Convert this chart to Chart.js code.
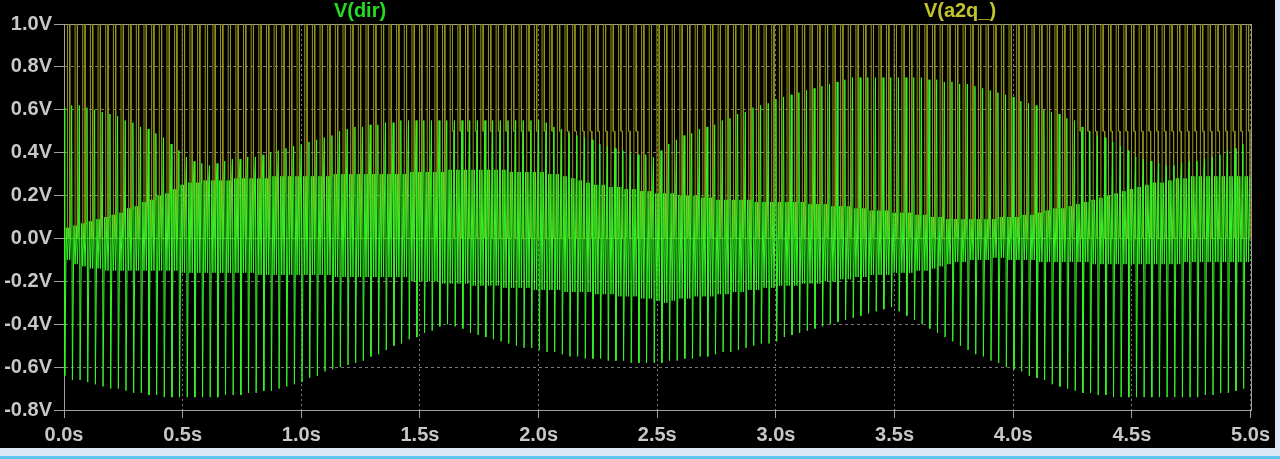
<!DOCTYPE html>
<html><head><meta charset="utf-8">
<script src="https://cdn.jsdelivr.net/npm/chart.js@4/dist/chart.umd.min.js"></script>
<style>
html,body{margin:0;padding:0;background:#dce8f5;width:1280px;height:459px;overflow:hidden}
#wrap{position:absolute;left:0;top:0;width:1275px;height:448px;background:#000}
#bar{position:absolute;left:0;top:456px;width:1280px;height:3px;background:#5cc6ec}
canvas{display:block}
</style></head><body>
<div id="wrap"><canvas id="c" width="1275" height="448"></canvas></div>
<div id="bar"></div>
<script>
const xTickLabels = ['0.0s','0.5s','1.0s','1.5s','2.0s','2.5s','3.0s','3.5s','4.0s','4.5s','5.0s'];
const yTickLabels = ['-0.8V','-0.6V','-0.4V','-0.2V','0.0V','0.2V','0.4V','0.6V','0.8V','1.0V'];
const traceNames = ['V(dir)','V(a2q_)'];
const timeSpan = [0, 5];

// V(dir): per-cycle peak values
const dirSpikeTop = [
 0.61,0.62,0.62,0.61,0.60,0.59,0.58,0.57,0.55,0.54,
 0.52,0.51,0.49,0.47,0.44,0.41,0.38,0.36,0.35,0.34,
 0.35,0.36,0.37,0.37,0.38,0.38,0.39,0.40,0.41,0.42,
 0.43,0.44,0.45,0.46,0.47,0.48,0.50,0.51,0.52,0.52,
 0.53,0.53,0.54,0.54,0.55,0.55,0.55,0.55,0.55,0.55,
 0.55,0.55,0.55,0.55,0.55,0.55,0.55,0.55,0.55,0.55,
 0.55,0.55,0.55,0.54,0.52,0.51,0.49,0.48,0.47,0.46,
 0.44,0.43,0.42,0.41,0.40,0.39,0.39,0.38,0.41,0.44,
 0.46,0.48,0.49,0.51,0.52,0.53,0.55,0.56,0.58,0.59,
 0.61,0.62,0.63,0.65,0.66,0.67,0.68,0.69,0.70,0.71,
 0.72,0.73,0.74,0.75,0.75,0.75,0.75,0.75,0.75,0.75,
 0.75,0.75,0.75,0.74,0.74,0.73,0.73,0.72,0.72,0.71,
 0.70,0.69,0.68,0.67,0.66,0.64,0.63,0.62,0.60,0.59,
 0.58,0.56,0.55,0.52,0.50,0.48,0.47,0.45,0.43,0.41,
 0.38,0.37,0.36,0.35,0.34,0.34,0.35,0.36,0.36,0.37,
 0.38,0.39,0.41,0.42,0.44
];
const dirSpikeBottom = [
 -0.64,-0.66,-0.66,-0.67,-0.68,-0.69,-0.70,-0.70,-0.71,-0.72,
 -0.72,-0.73,-0.73,-0.74,-0.74,-0.74,-0.74,-0.74,-0.74,-0.74,
 -0.74,-0.73,-0.73,-0.73,-0.72,-0.72,-0.71,-0.71,-0.70,-0.69,
 -0.68,-0.67,-0.65,-0.64,-0.62,-0.61,-0.60,-0.59,-0.58,-0.57,
 -0.55,-0.54,-0.52,-0.50,-0.49,-0.47,-0.46,-0.44,-0.43,-0.41,
 -0.40,-0.41,-0.42,-0.44,-0.45,-0.46,-0.47,-0.48,-0.49,-0.50,
 -0.51,-0.51,-0.52,-0.53,-0.53,-0.54,-0.55,-0.55,-0.56,-0.56,
 -0.56,-0.57,-0.57,-0.57,-0.58,-0.58,-0.58,-0.58,-0.58,-0.57,
 -0.57,-0.56,-0.56,-0.55,-0.55,-0.54,-0.53,-0.53,-0.52,-0.51,
 -0.50,-0.49,-0.49,-0.48,-0.46,-0.45,-0.44,-0.43,-0.42,-0.41,
 -0.40,-0.39,-0.38,-0.37,-0.36,-0.35,-0.34,-0.33,-0.32,-0.34,
 -0.36,-0.38,-0.40,-0.42,-0.44,-0.46,-0.48,-0.50,-0.52,-0.54,
 -0.55,-0.57,-0.58,-0.60,-0.61,-0.62,-0.64,-0.65,-0.66,-0.68,
 -0.69,-0.70,-0.71,-0.72,-0.72,-0.73,-0.73,-0.74,-0.74,-0.74,
 -0.74,-0.74,-0.74,-0.74,-0.74,-0.74,-0.74,-0.74,-0.74,-0.73,
 -0.73,-0.72,-0.72,-0.71,-0.70
];
const dirBandTop = [
 0.05,0.06,0.07,0.08,0.09,0.10,0.11,0.12,0.14,0.15,
 0.17,0.18,0.20,0.21,0.23,0.25,0.26,0.26,0.27,0.27,
 0.27,0.27,0.28,0.28,0.28,0.28,0.28,0.29,0.29,0.29,
 0.29,0.29,0.29,0.29,0.29,0.30,0.30,0.30,0.30,0.30,
 0.30,0.30,0.30,0.30,0.30,0.31,0.31,0.31,0.31,0.31,
 0.32,0.32,0.32,0.32,0.32,0.32,0.32,0.32,0.31,0.31,
 0.31,0.31,0.31,0.30,0.30,0.29,0.28,0.27,0.26,0.25,
 0.25,0.24,0.24,0.23,0.23,0.22,0.22,0.21,0.21,0.21,
 0.20,0.20,0.20,0.19,0.19,0.18,0.18,0.18,0.18,0.18,
 0.17,0.17,0.17,0.17,0.17,0.17,0.17,0.16,0.16,0.16,
 0.15,0.15,0.15,0.14,0.14,0.13,0.13,0.13,0.12,0.12,
 0.12,0.11,0.11,0.10,0.10,0.09,0.09,0.09,0.09,0.09,
 0.09,0.09,0.10,0.10,0.10,0.11,0.11,0.12,0.13,0.14,
 0.14,0.15,0.16,0.17,0.18,0.19,0.20,0.21,0.22,0.23,
 0.24,0.25,0.26,0.26,0.27,0.28,0.28,0.29,0.29,0.29,
 0.29,0.29,0.29,0.29,0.29
];
const dirBandBottom = [
 -0.10,-0.12,-0.13,-0.14,-0.14,-0.15,-0.15,-0.15,-0.15,-0.15,
 -0.15,-0.15,-0.15,-0.15,-0.15,-0.16,-0.16,-0.16,-0.16,-0.16,
 -0.16,-0.16,-0.16,-0.16,-0.16,-0.17,-0.17,-0.17,-0.17,-0.17,
 -0.17,-0.17,-0.17,-0.17,-0.17,-0.18,-0.18,-0.18,-0.18,-0.18,
 -0.18,-0.18,-0.18,-0.18,-0.18,-0.20,-0.20,-0.20,-0.20,-0.21,
 -0.21,-0.21,-0.21,-0.22,-0.22,-0.22,-0.22,-0.23,-0.23,-0.23,
 -0.23,-0.24,-0.24,-0.24,-0.24,-0.25,-0.25,-0.25,-0.25,-0.26,
 -0.26,-0.26,-0.27,-0.27,-0.27,-0.28,-0.28,-0.29,-0.30,-0.29,
 -0.28,-0.28,-0.27,-0.27,-0.27,-0.26,-0.26,-0.25,-0.25,-0.24,
 -0.24,-0.23,-0.23,-0.22,-0.22,-0.22,-0.21,-0.21,-0.21,-0.20,
 -0.20,-0.19,-0.19,-0.18,-0.18,-0.17,-0.17,-0.17,-0.16,-0.16,
 -0.16,-0.15,-0.15,-0.14,-0.13,-0.12,-0.11,-0.11,-0.10,-0.10,
 -0.10,-0.09,-0.09,-0.10,-0.10,-0.10,-0.10,-0.11,-0.11,-0.11,
 -0.11,-0.11,-0.11,-0.11,-0.12,-0.12,-0.12,-0.12,-0.12,-0.12,
 -0.12,-0.12,-0.12,-0.12,-0.12,-0.12,-0.11,-0.11,-0.11,-0.11,
 -0.11,-0.11,-0.11,-0.11,-0.11
];
// where in each cycle the extremes sit (fraction of a cycle) and which value each uses
const dirPhase = [0, 0.1, 0.3, 0.45, 0.6, 0.75, 0.9];
const dirPhaseSource = ['top','bottom','bandTop','bandBottom','bandTop','bandBottom','bandTop'];

// V(a2q_): pulse levels per cycle
const a2qHigh = 1.0;
const a2qLow = 0.0;
const a2qMid = [
 0,0,0,0,0,0,0,0,0,0,
 0,0,0,0,0,0,0,0,0,0,
 0,0,0,0,0,0,0,0,0,0,
 0,0,0,0,0,0,0,0,0,0,
 0,0,0,0,0,0,0,0,0,0,
 0.5,0.5,0.5,0.5,0.5,0.5,0.5,0.5,0.5,0.5,
 0.5,0.5,0.5,0.5,0.5,0.5,0.5,0.5,0.5,0.5,
 0.5,0.5,0.5,0.5,0.5,0,0,0,0,0,
 0,0,0,0,0,0,0,0,0,0,
 0,0,0,0,0,0,0,0,0,0,
 0,0,0,0,0,0,0,0,0,0,
 0,0,0,0,0,0,0,0,0,0,
 0,0,0,0,0,0,0,0,0,0,
 0,0,0.5,0.5,0.5,0.5,0.5,0.5,0.5,0.5,
 0.5,0.5,0.5,0.5,0.5,0.5,0.5,0.5,0.5,0.5,
 0.5,0.5,0.5,0.5,0.5
];
const a2qPhase = [0.45, 0.45, 0.75, 0.75, 0.95, 0.95];
const a2qPhaseSource = ['low','high','high','mid','mid','low'];

const cycleCount = dirSpikeTop.length;
const cyclePeriod = (timeSpan[1] - timeSpan[0]) / cycleCount;

const dirPoints = [];
const a2qPoints = [];
for (let k = 0; k < cycleCount; k++) {
  const t0 = timeSpan[0] + k * cyclePeriod;
  const dv = {top: dirSpikeTop[k], bottom: dirSpikeBottom[k], bandTop: dirBandTop[k], bandBottom: dirBandBottom[k]};
  dirPhase.forEach((p, i) => dirPoints.push({x: t0 + p * cyclePeriod, y: dv[dirPhaseSource[i]]}));
  const av = {low: a2qLow, high: a2qHigh, mid: a2qMid[k]};
  a2qPhase.forEach((p, i) => a2qPoints.push({x: t0 + p * cyclePeriod, y: av[a2qPhaseSource[i]]}));
}

const FONT = {family: "'Liberation Sans', Arial, sans-serif", size: 20, weight: 'bold'};

const framePlugin = {
  id: 'frame',
  beforeDatasetsDraw(chart) {
    const {ctx, chartArea: a} = chart;
    ctx.save();
    ctx.strokeStyle = '#a0a0a0';
    ctx.lineWidth = 1;
    ctx.strokeRect(Math.round(a.left) + 0.5, Math.round(a.top) + 0.5, Math.round(a.right - a.left), Math.round(a.bottom - a.top));
    ctx.restore();
  },
  afterDraw(chart) {
    const {ctx} = chart;
    ctx.save();
    ctx.font = "bold 20px 'Liberation Sans', Arial, sans-serif";
    ctx.textAlign = 'center';
    ctx.textBaseline = 'middle';
    ctx.fillStyle = '#22dd22';
    ctx.fillText(traceNames[0], 360, 11);
    ctx.fillStyle = '#c3c32a';
    ctx.fillText(traceNames[1], 960, 11);
    ctx.restore();
  }
};

new Chart(document.getElementById('c'), {
  type: 'line',
  data: {
    datasets: [
      {label: traceNames[0], data: dirPoints, borderColor: '#36f526', borderWidth: 1, pointRadius: 0, tension: 0, fill: false},
      {label: traceNames[1], data: a2qPoints, borderColor: '#96961c', borderWidth: 1, pointRadius: 0, tension: 0, fill: false}
    ]
  },
  options: {
    responsive: false,
    animation: false,
    devicePixelRatio: 1,
    events: [],
    parsing: false,
    layout: {padding: {left: 0, right: 21, top: 24, bottom: 0}},
    plugins: {legend: {display: false}, tooltip: {enabled: false}},
    scales: {
      x: {
        type: 'linear', min: timeSpan[0], max: timeSpan[1],
        ticks: {stepSize: 0.5, color: '#c8c8c8', font: FONT, padding: 5, maxRotation: 0, autoSkip: false,
                callback: (v, i) => xTickLabels[i]},
        grid: {color: '#7a7a7a', tickColor: '#a0a0a0', tickLength: 8, lineWidth: 1},
        border: {display: true, color: '#a0a0a0', dash: [2, 3]},
        afterFit: s => { s.height = 38; }
      },
      y: {
        type: 'linear', min: -0.8, max: 1.0,
        ticks: {stepSize: 0.2, color: '#c8c8c8', font: FONT, padding: 2,
                callback: (v, i) => yTickLabels[i]},
        grid: {color: '#7a7a7a', tickColor: '#a0a0a0', tickLength: 10, lineWidth: 1},
        border: {display: true, color: '#a0a0a0', dash: [3, 3]},
        afterFit: s => { s.width = 64; }
      }
    }
  },
  plugins: [framePlugin]
});
</script>
</body></html>
